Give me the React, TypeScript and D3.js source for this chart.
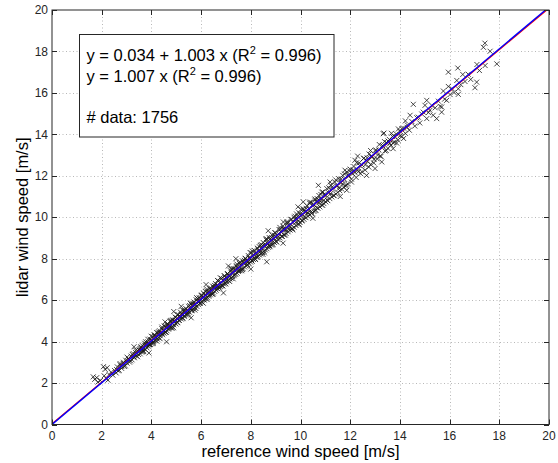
import { useEffect, useRef } from 'react';
import * as d3 from 'd3';

// reference wind speed vs lidar wind speed [m/s]
const lowRange: [number, number][] = [
  [1.66, 2.30], [1.72, 2.18], [1.80, 2.26], [1.85, 2.05], [1.95, 2.12], [2.07, 2.79], [2.10, 2.35], [2.14, 2.66],
  [2.18, 2.22], [2.22, 2.74], [2.25, 2.14], [2.30, 2.41], [2.38, 2.52], [2.45, 2.38], [2.52, 2.60], [2.58, 2.49],
  [2.63, 2.78], [2.70, 2.62], [2.74, 2.88], [2.80, 2.71], [2.86, 2.95], [2.91, 2.80], [2.97, 3.10], [3.02, 2.96],
  [3.08, 3.18], [3.12, 3.01], [3.18, 3.30], [3.22, 3.12], [3.27, 3.42], [3.31, 3.22], [3.36, 3.48], [3.40, 3.31],
  [3.45, 3.55], [3.48, 3.38],
  [3.52, 3.60], [3.55, 3.41], [3.58, 3.72], [3.61, 3.49], [3.64, 3.80], [3.67, 3.58], [3.70, 3.66], [3.73, 3.92],
  [3.76, 3.61], [3.79, 3.87], [3.82, 3.70], [3.85, 3.99], [3.88, 3.78], [3.91, 3.84], [3.94, 4.12], [3.97, 3.86],
  [4.00, 4.05], [4.03, 3.90], [4.06, 4.24], [4.09, 4.01], [4.12, 4.30], [4.15, 4.05], [4.18, 4.22], [4.21, 4.44],
  [4.24, 4.12], [4.27, 4.35], [4.30, 4.19], [4.33, 4.52], [4.36, 4.28], [4.39, 4.40], [4.42, 4.62], [4.45, 4.33],
  [4.48, 4.55], [4.51, 4.41], [4.54, 4.73], [4.55, 4.95], [4.57, 4.46], [4.60, 4.68], [4.61, 3.99], [4.63, 4.52],
  [4.66, 4.85], [4.69, 4.60], [4.72, 4.78], [4.75, 4.98], [4.78, 4.66], [4.81, 4.90], [4.84, 4.72], [4.87, 5.05],
  [4.90, 4.81], [4.93, 4.96], [4.96, 5.18], [4.99, 4.85], [5.02, 5.10], [5.05, 4.93], [5.08, 5.30], [5.11, 5.02],
  [5.14, 5.21], [5.17, 5.42], [5.20, 5.09], [5.23, 5.33], [5.26, 5.15], [5.29, 5.48], [5.32, 5.22], [5.35, 5.38],
  [5.38, 5.60], [5.41, 5.28], [5.44, 5.52], [5.47, 5.36], [5.50, 5.70], [5.53, 5.42], [5.56, 5.60], [5.59, 5.82],
  [5.62, 5.49], [5.65, 5.74], [5.68, 5.58], [5.71, 5.91], [5.74, 5.63], [5.77, 5.80], [5.80, 6.02], [5.83, 5.70],
  [5.86, 5.95], [5.89, 5.79], [5.92, 6.12], [5.95, 5.84], [5.98, 6.05],
];

const midRange: [number, number][] = [
  [6.01, 6.22], [6.04, 5.90], [6.07, 6.15], [6.10, 6.33], [6.13, 6.00], [6.16, 6.25], [6.19, 6.08], [6.22, 6.45],
  [6.25, 6.12], [6.28, 6.36], [6.31, 6.19], [6.34, 6.55], [6.37, 6.26], [6.40, 6.48], [6.43, 6.30], [6.46, 6.68],
  [6.49, 6.35], [6.52, 6.60], [6.55, 6.42], [6.58, 6.80], [6.61, 6.48], [6.64, 6.72], [6.67, 6.55], [6.70, 6.92],
  [6.73, 6.58], [6.76, 6.83], [6.79, 6.66], [6.82, 7.05], [6.85, 6.70], [6.88, 6.95], [6.91, 6.78], [6.94, 7.18],
  [6.97, 6.82], [7.00, 7.08], [7.03, 6.88], [7.06, 7.28], [7.09, 6.95], [7.12, 7.20], [7.15, 7.02], [7.18, 7.42],
  [7.21, 7.06], [7.24, 7.31], [7.27, 7.14], [7.30, 7.52], [7.33, 7.18], [7.36, 7.44], [7.39, 7.26], [7.42, 7.66],
  [7.45, 7.30], [7.48, 7.55], [7.51, 7.38], [7.54, 7.78], [7.57, 7.42], [7.60, 7.68], [7.63, 7.50], [7.66, 7.90],
  [7.69, 7.52], [7.72, 7.80], [7.75, 7.60], [7.78, 8.02], [7.81, 7.65], [7.84, 7.92], [7.87, 7.72], [7.90, 8.15],
  [7.93, 7.76], [7.96, 8.04], [7.99, 7.84], [8.02, 8.28], [8.05, 7.88], [8.08, 8.16], [8.11, 7.96], [8.14, 8.40],
  [8.17, 8.00], [8.20, 8.28], [8.23, 8.08], [8.26, 8.52], [8.29, 8.12], [8.32, 8.40], [8.35, 8.18], [8.38, 8.64],
  [8.41, 8.24], [8.44, 8.52], [8.47, 8.30], [8.50, 8.78], [8.53, 8.36], [8.56, 8.63], [8.59, 8.42], [8.62, 8.90],
  [8.64, 7.85], [8.65, 8.48], [8.68, 8.75], [8.71, 8.55], [8.74, 9.02], [8.77, 8.58], [8.80, 8.88], [8.83, 8.66],
  [8.86, 9.14], [8.89, 8.70], [8.92, 9.00], [8.95, 8.78], [8.98, 9.26],
  [9.02, 8.84], [9.06, 9.12], [9.10, 8.92], [9.14, 9.40], [9.18, 9.00], [9.22, 9.28], [9.26, 9.08], [9.30, 9.58],
  [9.34, 9.14], [9.38, 9.44], [9.42, 9.22], [9.46, 9.74], [9.50, 9.30], [9.54, 9.60], [9.58, 9.38], [9.62, 9.90],
  [9.66, 9.44], [9.70, 9.75], [9.74, 9.52], [9.78, 10.05], [9.82, 9.60], [9.86, 9.92], [9.90, 9.66], [9.94, 10.22],
  [9.98, 9.75], [10.02, 10.08], [10.06, 9.82], [10.10, 10.40], [10.14, 9.90], [10.18, 10.25], [10.22, 9.98],
  [10.26, 10.55], [10.30, 10.05], [10.34, 10.40], [10.38, 10.12], [10.42, 10.72], [10.46, 10.20], [10.50, 10.55],
  [10.54, 10.28], [10.58, 10.88], [10.62, 10.34], [10.66, 10.72], [10.70, 10.44], [10.74, 11.05], [10.78, 10.50],
  [10.82, 10.88], [10.86, 10.58], [10.90, 11.22], [10.94, 10.66], [10.98, 11.02], [11.02, 10.74], [11.06, 11.38],
  [11.10, 10.80], [11.14, 11.18], [11.18, 10.90], [11.22, 11.55], [11.26, 10.98], [11.30, 11.35], [11.34, 11.05],
  [11.38, 11.70], [11.42, 11.12], [11.46, 11.50], [11.50, 11.20], [11.54, 11.86], [11.58, 11.28], [11.62, 11.66],
  [11.66, 11.36], [11.70, 12.02], [11.74, 11.45], [11.78, 11.82], [11.82, 11.50], [11.86, 12.18], [11.90, 11.60],
  [11.95, 11.98],
];

const highRange: [number, number][] = [
  [12.00, 12.32], [12.05, 11.70], [12.10, 12.10], [12.15, 12.45], [12.19, 12.75], [12.24, 11.92], [12.30, 12.28],
  [12.36, 12.62], [12.42, 12.10], [12.48, 12.52], [12.55, 12.85], [12.60, 12.28], [12.66, 12.02], [12.70, 12.70],
  [12.76, 13.05], [12.82, 12.55], [12.88, 12.90], [12.95, 12.62], [13.00, 12.35], [13.02, 13.20], [13.08, 12.82],
  [13.15, 13.25], [13.20, 12.95], [13.27, 12.67], [13.30, 13.45], [13.33, 14.03], [13.36, 14.06], [13.40, 13.20],
  [13.46, 13.60], [13.52, 13.32], [13.58, 13.75], [13.64, 13.48], [13.70, 13.90], [13.73, 13.31], [13.78, 13.62],
  [13.85, 14.02], [13.92, 13.72], [14.00, 14.15], [14.08, 13.90], [14.15, 14.30], [14.22, 14.05], [14.30, 14.45],
  [14.38, 14.20], [14.41, 14.92], [14.48, 14.62], [14.54, 15.45], [14.60, 14.40], [14.68, 14.80], [14.74, 14.83],
  [14.80, 14.55], [14.88, 14.98], [14.94, 15.07],
  [15.01, 15.40], [15.08, 15.64], [15.08, 14.76], [15.15, 15.05], [15.21, 15.16], [15.28, 15.40], [15.34, 14.92],
  [15.42, 15.28], [15.48, 14.76], [15.55, 15.60], [15.62, 15.35], [15.68, 15.32], [15.68, 15.07], [15.75, 16.09],
  [15.80, 15.70], [15.88, 15.64], [15.95, 16.31], [15.95, 17.00], [16.02, 15.92], [16.10, 16.20], [16.18, 16.02],
  [16.29, 16.60], [16.33, 17.20], [16.35, 16.20], [16.35, 15.93], [16.45, 16.40], [16.53, 16.89], [16.62, 16.55],
  [16.75, 16.90], [16.85, 16.65], [17.02, 16.25], [17.09, 16.52], [17.10, 17.37], [17.20, 17.08], [17.36, 18.20],
  [17.42, 18.40], [17.43, 17.32], [17.63, 18.01], [17.90, 17.40],
];

// more points inside the dense band
const bandFillA: [number, number][] = [
  [2.60, 2.65], [2.67, 2.59], [2.74, 2.94], [2.81, 2.80], [2.88, 3.00], [2.95, 2.83], [3.02, 3.25], [3.09, 3.12],
  [3.16, 3.07], [3.23, 3.38], [3.30, 3.26], [3.37, 3.58], [3.44, 3.27], [3.51, 3.59], [3.58, 3.75], [3.65, 3.52],
  [3.72, 3.83], [3.79, 3.80], [3.86, 4.11], [3.93, 3.86], [4.00, 4.06], [4.07, 3.91], [4.14, 4.32], [4.21, 4.19],
  [4.28, 4.41], [4.35, 4.14], [4.42, 4.70], [4.49, 4.53], [4.56, 4.46], [4.63, 4.79], [4.70, 4.65], [4.77, 5.01],
  [4.84, 4.65], [4.91, 5.00], [4.98, 5.17], [5.05, 4.91], [5.12, 5.22], [5.19, 5.19], [5.26, 5.53], [5.33, 5.25],
  [5.40, 5.45], [5.47, 5.30], [5.54, 5.74], [5.61, 5.58], [5.68, 5.82], [5.75, 5.52], [5.82, 6.12], [5.89, 5.92],
  [5.96, 5.85], [6.03, 6.20], [6.10, 6.04], [6.17, 6.42], [6.24, 6.03], [6.31, 6.39], [6.38, 6.59], [6.45, 6.30],
  [6.52, 6.63], [6.59, 6.58], [6.66, 6.95], [6.73, 6.64], [6.80, 6.86], [6.87, 6.68], [6.94, 7.16], [7.01, 6.97],
  [7.08, 7.23], [7.15, 6.90], [7.22, 7.54], [7.29, 7.33], [7.36, 7.24], [7.43, 7.61], [7.50, 7.43], [7.57, 7.84],
  [7.64, 7.42], [7.71, 7.80], [7.78, 8.00], [7.85, 7.69], [7.92, 8.04], [7.99, 7.99], [8.06, 8.37], [8.13, 8.03],
  [8.20, 8.25], [8.27, 8.07], [8.34, 8.58], [8.41, 8.36], [8.48, 8.64], [8.55, 8.28], [8.62, 8.96], [8.69, 8.72],
  [8.76, 8.63], [8.83, 9.02], [8.90, 8.83], [8.97, 9.25], [9.04, 8.80], [9.11, 9.21], [9.18, 9.41], [9.25, 9.08],
  [9.32, 9.45], [9.39, 9.38], [9.46, 9.79], [9.53, 9.42], [9.60, 9.66], [9.67, 9.45], [9.74, 10.00], [9.81, 9.75],
  [9.88, 10.05], [9.95, 9.66], [10.02, 10.38], [10.09, 10.13], [10.16, 10.01], [10.23, 10.43], [10.30, 10.22],
  [10.37, 10.67], [10.44, 10.18], [10.51, 10.62], [10.58, 10.82], [10.65, 10.46], [10.72, 10.86], [10.79, 10.77],
  [10.86, 11.21], [10.93, 10.81], [11.00, 11.07], [11.07, 10.83], [11.14, 11.42], [11.21, 11.14], [11.28, 11.46],
  [11.35, 11.04], [11.42, 11.80], [11.49, 11.52], [11.56, 11.40], [11.63, 11.84], [11.70, 11.61], [11.77, 12.09],
  [11.84, 11.56], [11.91, 12.03], [11.98, 12.23], [12.05, 11.84], [12.12, 12.27], [12.19, 12.16], [12.26, 12.63],
  [12.33, 12.20], [12.40, 12.48], [12.47, 12.20], [12.54, 12.84], [12.61, 12.53], [12.68, 12.87], [12.75, 12.42],
  [12.82, 13.22], [12.89, 12.93], [12.96, 12.79], [13.03, 13.25], [13.10, 13.00], [13.17, 13.51], [13.24, 12.94],
  [13.31, 13.44], [13.38, 13.65], [13.45, 13.22], [13.52, 13.68], [13.59, 13.55], [13.66, 14.05], [13.73, 13.59],
  [13.80, 13.89], [13.87, 13.58], [13.94, 14.26], [14.01, 13.93], [14.08, 14.28], [14.15, 13.80], [14.22, 14.65],
  [14.29, 14.34],
];

const bandFillB: [number, number][] = [
  [3.54, 3.67], [3.62, 3.64], [3.69, 3.52], [3.77, 3.99], [3.84, 3.91], [3.92, 3.86], [3.99, 4.26], [4.07, 3.96],
  [4.14, 4.24], [4.22, 4.02], [4.29, 4.47], [4.37, 4.40], [4.44, 4.41], [4.52, 4.76], [4.59, 4.45], [4.67, 4.81],
  [4.74, 4.75], [4.82, 5.03], [4.89, 4.67], [4.97, 5.05], [5.04, 5.30], [5.12, 5.03], [5.19, 5.31], [5.27, 5.11],
  [5.34, 5.50], [5.42, 5.46], [5.49, 5.44], [5.57, 5.86], [5.64, 5.52], [5.72, 5.79], [5.79, 5.60], [5.87, 6.06],
  [5.94, 5.94], [6.02, 6.25], [6.09, 5.85], [6.17, 6.28], [6.24, 6.52], [6.32, 6.25], [6.39, 6.53], [6.47, 6.29],
  [6.54, 6.71], [6.62, 6.67], [6.69, 6.65], [6.77, 7.08], [6.84, 6.71], [6.92, 7.01], [6.99, 6.78], [7.07, 7.27],
  [7.14, 7.13], [7.22, 7.47], [7.29, 7.03], [7.37, 7.49], [7.44, 7.74], [7.52, 7.44], [7.59, 7.74], [7.67, 7.48],
  [7.74, 7.92], [7.82, 7.86], [7.89, 7.84], [7.97, 8.30], [8.04, 7.90], [8.12, 8.20], [8.19, 7.96], [8.27, 8.48],
  [8.34, 8.32], [8.42, 8.68], [8.49, 8.21], [8.57, 8.70], [8.64, 8.95], [8.72, 8.63], [8.79, 8.95], [8.87, 8.67],
  [8.94, 9.13], [9.02, 9.05], [9.09, 9.03], [9.17, 9.51], [9.24, 9.09], [9.32, 9.41], [9.39, 9.14], [9.47, 9.69],
  [9.54, 9.51], [9.62, 9.89], [9.69, 9.39], [9.77, 9.91], [9.84, 10.16], [9.92, 9.82], [9.99, 10.16], [10.07, 9.86],
  [10.14, 10.34], [10.22, 10.26], [10.29, 10.22], [10.37, 10.73], [10.44, 10.28], [10.52, 10.62], [10.59, 10.32],
  [10.67, 10.90], [10.74, 10.70], [10.82, 11.10], [10.89, 10.58], [10.97, 11.12],
];

// scattered points off the band
const outliers: [number, number][] = [
  [3.30, 3.75], [3.90, 3.45], [4.90, 5.45], [5.20, 5.70], [5.60, 5.15], [6.20, 6.75], [6.90, 6.35], [7.10, 7.65],
  [7.40, 8.00], [8.00, 7.50], [8.70, 9.35], [9.30, 8.75], [9.31, 9.77], [9.90, 10.50], [10.11, 10.74], [10.50, 9.95],
  [10.72, 11.54], [11.19, 11.70], [11.60, 11.00], [11.79, 12.27], [11.86, 11.30], [12.30, 12.95],
];

// fits: [intercept, slope, colour]
const fits: [number, number, string][] = [
  [0.034, 1.003, '#ff0000'],
  [0, 1.007, '#0000ff'],
];

const ticks = [0, 2, 4, 6, 8, 10, 12, 14, 16, 18, 20];

const App = () => {
  const svgRef = useRef<SVGSVGElement>(null);

  useEffect(() => {
    const W = 558;
    const H = 463;
    const left = 52, right = 549, top = 10, bottom = 424.5;

    const svg = d3.select(svgRef.current);
    svg.selectAll('*').remove();
    svg.attr('width', W).attr('height', H);

    const x = d3.scaleLinear().domain([0, 20]).range([left, right]);
    const y = d3.scaleLinear().domain([0, 20]).range([bottom, top]);

    const font = 'Liberation Sans, Arial, Helvetica, sans-serif';

    svg.append('rect').attr('width', W).attr('height', H).attr('fill', '#fff');

    // grid
    const grid = svg.append('g')
      .attr('stroke', '#b8b8b8')
      .attr('stroke-width', 1)
      .attr('stroke-dasharray', '1,2.5');
    grid.selectAll('.gx').data(ticks.slice(1, -1)).enter().append('line')
      .attr('x1', d => Math.round(x(d)) + 0.5).attr('x2', d => Math.round(x(d)) + 0.5)
      .attr('y1', top).attr('y2', bottom);
    grid.selectAll('.gy').data(ticks.slice(1, -1)).enter().append('line')
      .attr('y1', d => Math.round(y(d)) + 0.5).attr('y2', d => Math.round(y(d)) + 0.5)
      .attr('x1', left).attr('x2', right);

    svg.append('clipPath').attr('id', 'plot-clip')
      .append('rect').attr('x', left).attr('y', top)
      .attr('width', right - left).attr('height', bottom - top);

    const plot = svg.append('g').attr('clip-path', 'url(#plot-clip)');

    // scatter markers
    const points = [...lowRange, ...midRange, ...highRange, ...bandFillA, ...bandFillB, ...outliers];
    plot.append('g')
      .selectAll('path')
      .data(points)
      .enter().append('path')
      .attr('transform', d => `translate(${x(d[0])},${y(d[1])})`)
      .attr('d', 'M-2.5,-2.5L2.5,2.5M-2.5,2.5L2.5,-2.5')
      .attr('stroke', '#1a1a1a')
      .attr('stroke-width', 0.8)
      .attr('fill', 'none');

    // regression lines
    const line = d3.line<[number, number]>().x(d => x(d[0])).y(d => y(d[1]));
    fits.forEach(([a, b, c]) => {
      plot.append('path')
        .attr('d', line([[0, a], [20, a + b * 20]]))
        .attr('stroke', c)
        .attr('stroke-width', 1.4)
        .attr('fill', 'none');
    });

    // axes box with inward ticks
    const ax = svg.append('g').attr('stroke', '#262626').attr('stroke-width', 1).attr('fill', 'none');
    ax.append('rect').attr('x', left).attr('y', top).attr('width', right - left).attr('height', bottom - top);
    const tl = 5;
    ticks.forEach(t => {
      const px = Math.round(x(t)) + 0.5;
      const py = Math.round(y(t)) + 0.5;
      ax.append('line').attr('x1', px).attr('x2', px).attr('y1', bottom).attr('y2', bottom - tl);
      ax.append('line').attr('x1', px).attr('x2', px).attr('y1', top).attr('y2', top + tl);
      ax.append('line').attr('y1', py).attr('y2', py).attr('x1', left).attr('x2', left + tl);
      ax.append('line').attr('y1', py).attr('y2', py).attr('x1', right).attr('x2', right - tl);
    });

    // tick labels
    svg.append('g').selectAll('text').data(ticks).enter().append('text')
      .attr('x', d => x(d)).attr('y', 439.5)
      .attr('text-anchor', 'middle')
      .style('font-family', font).style('font-size', '12px').style('fill', '#262626')
      .text(d => d);
    svg.append('g').selectAll('text').data(ticks).enter().append('text')
      .attr('x', 48).attr('y', d => y(d)).attr('dy', '0.35em')
      .attr('text-anchor', 'end')
      .style('font-family', font).style('font-size', '12px').style('fill', '#262626')
      .text(d => d);

    // axis titles
    svg.append('text')
      .attr('x', (left + right) / 2).attr('y', 456.5)
      .attr('text-anchor', 'middle')
      .style('font-family', font).style('font-size', '16.5px').style('fill', '#000')
      .text('reference wind speed [m/s]');
    svg.append('text')
      .attr('transform', `translate(27.5,${(top + bottom) / 2}) rotate(-90)`)
      .attr('text-anchor', 'middle')
      .style('font-family', font).style('font-size', '16.5px').style('fill', '#000')
      .text('lidar wind speed [m/s]');

    // annotation box
    svg.append('rect')
      .attr('x', 79.5).attr('y', 34.5).attr('width', 254.5).attr('height', 102.5)
      .attr('fill', '#fff').attr('stroke', '#262626').attr('stroke-width', 1);

    const lines = [
      ['y = 0.034 + 1.003 x (R', ' = 0.996)'],
      ['y = 1.007 x (R', ' = 0.996)'],
    ];
    lines.forEach((l, i) => {
      const t = svg.append('text')
        .attr('x', 86.5).attr('y', 61 + i * 20.5)
        .style('font-family', font).style('font-size', '16.5px').style('fill', '#000');
      t.append('tspan').text(l[0]);
      t.append('tspan').attr('dy', -7).style('font-size', '11px').text('2');
      t.append('tspan').attr('dy', 7).text(l[1]);
    });
    svg.append('text')
      .attr('x', 86.5).attr('y', 122.5)
      .style('font-family', font).style('font-size', '16.5px').style('fill', '#000')
      .text('# data: 1756');
  }, []);

  return (
    <svg ref={svgRef} style={{ position: 'absolute', left: 0, top: 0 }}></svg>
  );
};

export default App;
